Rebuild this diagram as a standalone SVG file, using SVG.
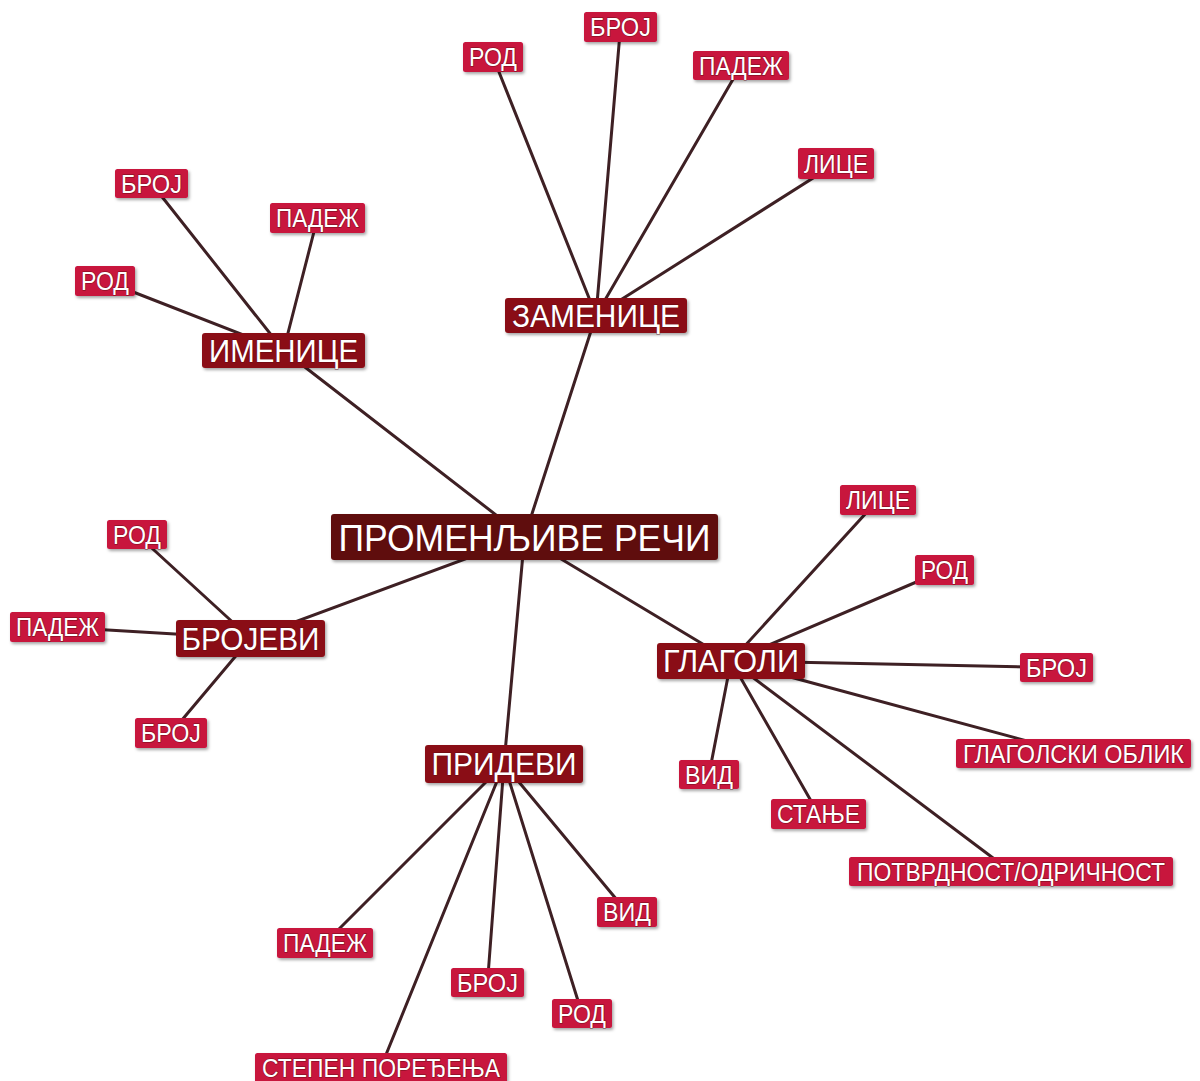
<svg xmlns="http://www.w3.org/2000/svg" width="1200" height="1081" viewBox="0 0 1200 1081">
<defs>
<filter id="sh" x="-10%" y="-30%" width="120%" height="160%">
<feDropShadow dx="1.5" dy="2" stdDeviation="1.5" flood-color="#000" flood-opacity="0.35"/>
</filter>
<style>
.ln{stroke:#3e2024;stroke-width:3;fill:none;stroke-linecap:round}
.root rect{fill:#5e0e10;filter:url(#sh)}
.sec rect{fill:#8a0b14;filter:url(#sh)}
.leaf rect{fill:#c8133d;filter:url(#sh)}
text{font-family:"Liberation Sans",Arial,sans-serif;fill:#fff;text-anchor:middle;stroke:#5a0a10;stroke-opacity:0.55;stroke-width:1.4;paint-order:stroke;stroke-linejoin:round}
.root text{font-size:37px}
.sec text{font-size:31px}
.leaf text{font-size:25px}
</style>
</defs>
<rect width="1200" height="1081" fill="#fff"/>
<g id="connectors">
<line class="ln" x1="524.5" y1="537" x2="283.5" y2="350.5"/>
<line class="ln" x1="524.5" y1="537" x2="596" y2="315.5"/>
<line class="ln" x1="524.5" y1="537" x2="250.5" y2="638.5"/>
<line class="ln" x1="524.5" y1="537" x2="731" y2="661"/>
<line class="ln" x1="524.5" y1="537" x2="504" y2="764"/>
<line class="ln" x1="283.5" y1="350.5" x2="151.5" y2="183.5"/>
<line class="ln" x1="283.5" y1="350.5" x2="317.5" y2="218"/>
<line class="ln" x1="283.5" y1="350.5" x2="105" y2="281"/>
<line class="ln" x1="596" y1="315.5" x2="493" y2="57"/>
<line class="ln" x1="596" y1="315.5" x2="620.5" y2="27"/>
<line class="ln" x1="596" y1="315.5" x2="741" y2="65.5"/>
<line class="ln" x1="596" y1="315.5" x2="836" y2="163.5"/>
<line class="ln" x1="250.5" y1="638.5" x2="137" y2="534.5"/>
<line class="ln" x1="250.5" y1="638.5" x2="57.5" y2="627"/>
<line class="ln" x1="250.5" y1="638.5" x2="171" y2="733"/>
<line class="ln" x1="731" y1="661" x2="878" y2="500"/>
<line class="ln" x1="731" y1="661" x2="944.5" y2="570"/>
<line class="ln" x1="731" y1="661" x2="1056.5" y2="667.5"/>
<line class="ln" x1="731" y1="661" x2="1073.5" y2="753.5"/>
<line class="ln" x1="731" y1="661" x2="709" y2="774.5"/>
<line class="ln" x1="731" y1="661" x2="818.5" y2="814"/>
<line class="ln" x1="731" y1="661" x2="1011" y2="871.5"/>
<line class="ln" x1="504" y1="764" x2="627" y2="912"/>
<line class="ln" x1="504" y1="764" x2="325" y2="943"/>
<line class="ln" x1="504" y1="764" x2="487.5" y2="982.5"/>
<line class="ln" x1="504" y1="764" x2="582" y2="1013.5"/>
<line class="ln" x1="504" y1="764" x2="381" y2="1067"/>
</g>
<g id="n-root" class="root"><rect x="331" y="514" width="387" height="46" rx="3"/><text x="524.5" y="550.5" textLength="372" lengthAdjust="spacingAndGlyphs">ПРОМЕНЉИВЕ РЕЧИ</text></g>
<g id="n-imenice" class="sec"><rect x="202" y="333" width="163" height="35" rx="3"/><text x="283.5" y="361.5" textLength="149" lengthAdjust="spacingAndGlyphs">ИМЕНИЦЕ</text></g>
<g id="n-zamenice" class="sec"><rect x="505" y="298" width="182" height="35" rx="3"/><text x="596" y="326.5" textLength="168" lengthAdjust="spacingAndGlyphs">ЗАМЕНИЦЕ</text></g>
<g id="n-brojevi" class="sec"><rect x="176" y="620" width="149" height="37" rx="3"/><text x="250.5" y="649.5" textLength="138" lengthAdjust="spacingAndGlyphs">БРОЈЕВИ</text></g>
<g id="n-glagoli" class="sec"><rect x="657" y="643" width="148" height="36" rx="3"/><text x="731" y="672" textLength="136" lengthAdjust="spacingAndGlyphs">ГЛАГОЛИ</text></g>
<g id="n-pridevi" class="sec"><rect x="425" y="745" width="158" height="38" rx="3"/><text x="504" y="775" textLength="145" lengthAdjust="spacingAndGlyphs">ПРИДЕВИ</text></g>
<g id="n-i-broj" class="leaf"><rect x="115" y="169" width="73" height="29" rx="2.5"/><text x="151.5" y="192.5" textLength="61" lengthAdjust="spacingAndGlyphs">БРОЈ</text></g>
<g id="n-i-padez" class="leaf"><rect x="270" y="203" width="95" height="30" rx="2.5"/><text x="317.5" y="227" textLength="83" lengthAdjust="spacingAndGlyphs">ПАДЕЖ</text></g>
<g id="n-i-rod" class="leaf"><rect x="75" y="266" width="60" height="30" rx="2.5"/><text x="105" y="290" textLength="48" lengthAdjust="spacingAndGlyphs">РОД</text></g>
<g id="n-z-rod" class="leaf"><rect x="463" y="42" width="60" height="30" rx="2.5"/><text x="493" y="66" textLength="48" lengthAdjust="spacingAndGlyphs">РОД</text></g>
<g id="n-z-broj" class="leaf"><rect x="584" y="12" width="73" height="30" rx="2.5"/><text x="620.5" y="36" textLength="61" lengthAdjust="spacingAndGlyphs">БРОЈ</text></g>
<g id="n-z-padez" class="leaf"><rect x="693" y="51" width="96" height="29" rx="2.5"/><text x="741" y="74.5" textLength="84" lengthAdjust="spacingAndGlyphs">ПАДЕЖ</text></g>
<g id="n-z-lice" class="leaf"><rect x="798" y="148" width="76" height="31" rx="2.5"/><text x="836" y="172.5" textLength="64" lengthAdjust="spacingAndGlyphs">ЛИЦЕ</text></g>
<g id="n-b-rod" class="leaf"><rect x="107" y="520" width="60" height="29" rx="2.5"/><text x="137" y="543.5" textLength="48" lengthAdjust="spacingAndGlyphs">РОД</text></g>
<g id="n-b-padez" class="leaf"><rect x="10" y="612" width="95" height="30" rx="2.5"/><text x="57.5" y="636" textLength="83" lengthAdjust="spacingAndGlyphs">ПАДЕЖ</text></g>
<g id="n-b-broj" class="leaf"><rect x="135" y="718" width="72" height="30" rx="2.5"/><text x="171" y="742" textLength="60" lengthAdjust="spacingAndGlyphs">БРОЈ</text></g>
<g id="n-g-lice" class="leaf"><rect x="840" y="485" width="76" height="30" rx="2.5"/><text x="878" y="509" textLength="64" lengthAdjust="spacingAndGlyphs">ЛИЦЕ</text></g>
<g id="n-g-rod" class="leaf"><rect x="915" y="555" width="59" height="30" rx="2.5"/><text x="944.5" y="579" textLength="47" lengthAdjust="spacingAndGlyphs">РОД</text></g>
<g id="n-g-broj" class="leaf"><rect x="1020" y="653" width="73" height="29" rx="2.5"/><text x="1056.5" y="676.5" textLength="61" lengthAdjust="spacingAndGlyphs">БРОЈ</text></g>
<g id="n-g-oblik" class="leaf"><rect x="956" y="739" width="235" height="29" rx="2.5"/><text x="1073.5" y="762.5" textLength="221" lengthAdjust="spacingAndGlyphs">ГЛАГОЛСКИ ОБЛИК</text></g>
<g id="n-g-vid" class="leaf"><rect x="679" y="760" width="60" height="29" rx="2.5"/><text x="709" y="783.5" textLength="48" lengthAdjust="spacingAndGlyphs">ВИД</text></g>
<g id="n-g-stanje" class="leaf"><rect x="771" y="799" width="95" height="30" rx="2.5"/><text x="818.5" y="823" textLength="83" lengthAdjust="spacingAndGlyphs">СТАЊЕ</text></g>
<g id="n-g-potvrdnost" class="leaf"><rect x="849" y="857" width="324" height="29" rx="2.5"/><text x="1011" y="880.5" textLength="308" lengthAdjust="spacingAndGlyphs">ПОТВРДНОСТ/ОДРИЧНОСТ</text></g>
<g id="n-p-vid" class="leaf"><rect x="597" y="897" width="60" height="30" rx="2.5"/><text x="627" y="921" textLength="48" lengthAdjust="spacingAndGlyphs">ВИД</text></g>
<g id="n-p-padez" class="leaf"><rect x="277" y="928" width="96" height="30" rx="2.5"/><text x="325" y="952" textLength="84" lengthAdjust="spacingAndGlyphs">ПАДЕЖ</text></g>
<g id="n-p-broj" class="leaf"><rect x="451" y="968" width="73" height="29" rx="2.5"/><text x="487.5" y="991.5" textLength="61" lengthAdjust="spacingAndGlyphs">БРОЈ</text></g>
<g id="n-p-rod" class="leaf"><rect x="552" y="999" width="60" height="29" rx="2.5"/><text x="582" y="1022.5" textLength="48" lengthAdjust="spacingAndGlyphs">РОД</text></g>
<g id="n-p-stepen" class="leaf"><rect x="255" y="1053" width="252" height="30" rx="2.5"/><text x="381" y="1077" textLength="238" lengthAdjust="spacingAndGlyphs">СТЕПЕН ПОРЕЂЕЊА</text></g>
</svg>
